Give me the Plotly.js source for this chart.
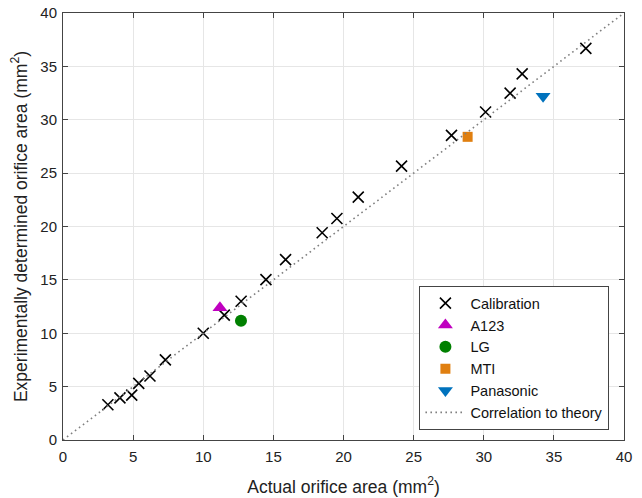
<!DOCTYPE html>
<html>
<head>
<meta charset="utf-8">
<script src="https://cdn.plot.ly/plotly-3.0.1.min.js"></script>
<style>html,body{margin:0;padding:0;background:#fff;}#chart{width:642px;height:498px;}</style>
</head>
<body>
<div id="chart"></div>
<script>
const calibX = [3.2, 4.06, 4.9, 5.4, 6.2, 7.3, 10.0, 11.5, 12.7, 14.47, 15.87, 18.48, 19.53, 21.05, 24.14, 27.7, 30.13, 31.88, 32.74, 37.28];
const calibY = [3.3, 3.94, 4.2, 5.3, 6.0, 7.5, 10.0, 11.7, 13.0, 15.02, 16.9, 19.41, 20.75, 22.75, 25.66, 28.54, 30.73, 32.49, 34.3, 36.69];
const a123X = [11.19], a123Y = [12.4];
const lgX = [12.69], lgY = [11.17];
const mtiX = [28.85], mtiY = [28.4];
const panX = [34.23], panY = [32.2];
const theoryX = [0, 40], theoryY = [0, 40];

const font = "'Liberation Sans', Arial, sans-serif";
const traces = [
  {x: calibX, y: calibY, mode: 'markers', type: 'scatter', name: 'Calibration',
   marker: {symbol: 'x-thin-open', size: 11, color: '#000', line: {color: '#000', width: 1.6}}},
  {x: a123X, y: a123Y, mode: 'markers', type: 'scatter', name: 'A123',
   marker: {symbol: 'triangle-up', size: 13, color: '#c000c0'}},
  {x: lgX, y: lgY, mode: 'markers', type: 'scatter', name: 'LG',
   marker: {symbol: 'circle', size: 12, color: '#008000'}},
  {x: mtiX, y: mtiY, mode: 'markers', type: 'scatter', name: 'MTI',
   marker: {symbol: 'square', size: 10, color: '#e07f10'}},
  {x: panX, y: panY, mode: 'markers', type: 'scatter', name: 'Panasonic',
   marker: {symbol: 'triangle-down', size: 13, color: '#0072bd'}},
  {x: theoryX, y: theoryY, mode: 'lines', type: 'scatter', name: 'Correlation to theory',
   line: {color: '#808080', width: 1.6, dash: '1.6px,3.4px'}}
];
const axisCommon = {
  range: [0, 40], dtick: 5, ticks: 'inside', ticklen: 5, tickcolor: '#444', mirror: 'ticks',
  showline: true, linecolor: '#444', linewidth: 1, showgrid: true, gridcolor: '#e6e6e6', zeroline: false,
  tickfont: {family: font, size: 15, color: '#222'}
};
const layout = {
  width: 642, height: 498,
  margin: {l: 63, r: 18, t: 13, b: 58},
  paper_bgcolor: '#fff', plot_bgcolor: '#fff',
  font: {family: font, color: '#222'},
  xaxis: Object.assign({}, axisCommon, {ticklabelstandoff: 3,
    title: {text: 'Actual orifice area (mm<sup>2</sup>)', font: {family: font, size: 17.5, color: '#222'}, standoff: 16}}),
  yaxis: Object.assign({}, axisCommon, {ticklabelstandoff: 2,
    title: {text: 'Experimentally determined orifice area (mm<sup>2</sup>)', font: {family: font, size: 17.5, color: '#222'}, standoff: 8}}),
  showlegend: true,
  legend: {x: 0.974, y: 0.023, xanchor: 'right', yanchor: 'bottom', bgcolor: '#fff', bordercolor: '#444', borderwidth: 1,
           font: {family: font, size: 14.5, color: '#111'}, tracegroupgap: 0, itemwidth: 40}
};
Plotly.newPlot('chart', traces, layout, {displayModeBar: false, staticPlot: true});
</script>
</body>
</html>
